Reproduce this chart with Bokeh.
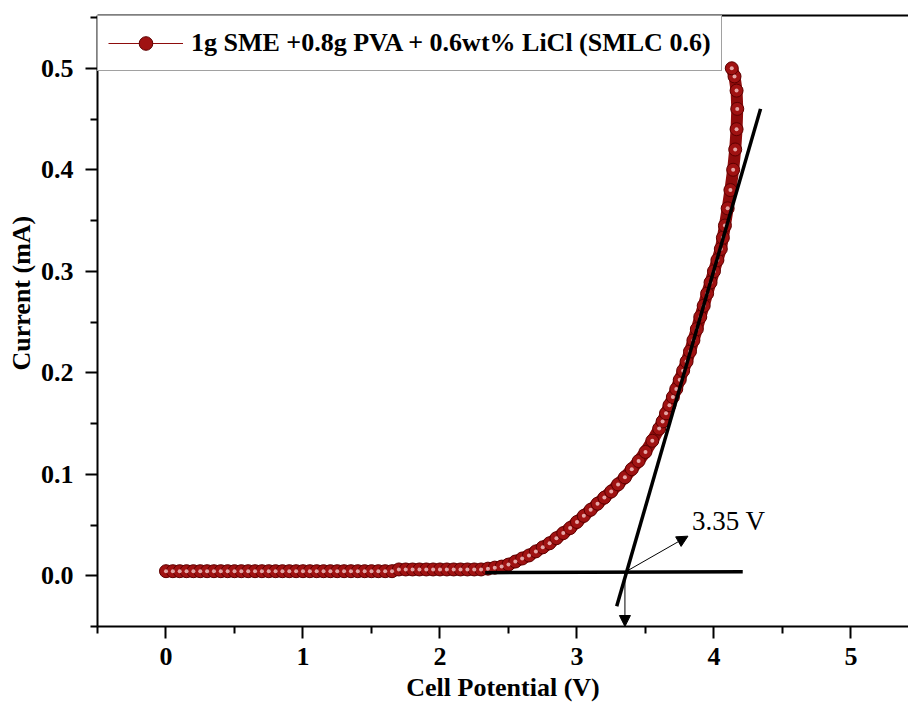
from bokeh.plotting import figure
from bokeh.models import (Range1d, FixedTicker, PrintfTickFormatter, LinearAxis,
                          Legend, LegendItem, Arrow, NormalHead, Label, Title)
from bokeh.embed import file_html
from bokeh.resources import INLINE

# ---- data (Cell potential in V, current in mA) ----
voltage = [0.00, 0.05, 0.10, 0.15, 0.20, 0.25, 0.30, 0.35, 0.40, 0.45,
           0.50, 0.55, 0.60, 0.65, 0.70, 0.75, 0.80, 0.85, 0.90, 0.95,
           1.00, 1.05, 1.10, 1.15, 1.20, 1.25, 1.30, 1.35, 1.40, 1.45,
           1.50, 1.55, 1.60, 1.65, 1.70, 1.75, 1.80, 1.85, 1.90, 1.95,
           2.00, 2.05, 2.10, 2.15, 2.20, 2.25, 2.30, 2.35, 2.40, 2.45,
           2.50, 2.55, 2.60, 2.65, 2.70, 2.75, 2.80, 2.85, 2.90, 2.95,
           3.00, 3.05, 3.10, 3.15, 3.20, 3.25, 3.30, 3.35, 3.40, 3.45,
           3.50, 3.55, 3.60, 3.625, 3.65, 3.675, 3.70, 3.725, 3.75, 3.775,
           3.80, 3.825, 3.85, 3.875, 3.90, 3.925, 3.95, 3.975, 4.00, 4.025,
           4.05, 4.065, 4.08, 4.10, 4.12, 4.14, 4.155, 4.165, 4.17, 4.165,
           4.15, 4.13]
current = [0.0045, 0.0045, 0.0045, 0.0045, 0.0045, 0.0045, 0.0045, 0.0045, 0.0045, 0.0045,
           0.0045, 0.0045, 0.0045, 0.0045, 0.0045, 0.0045, 0.0045, 0.0045, 0.0045, 0.0045,
           0.0045, 0.0045, 0.0045, 0.0045, 0.0045, 0.0045, 0.0045, 0.0045, 0.0045, 0.0045,
           0.0045, 0.0045, 0.0045, 0.0045, 0.0062, 0.0062, 0.0062, 0.0062, 0.0062, 0.0062,
           0.0062, 0.0062, 0.0062, 0.0062, 0.0062, 0.0062, 0.0062, 0.0070, 0.0080, 0.0090,
           0.011, 0.014, 0.017, 0.020, 0.024, 0.028, 0.032, 0.037, 0.042, 0.047,
           0.053, 0.059, 0.065, 0.071, 0.077, 0.083, 0.090, 0.097, 0.105, 0.113,
           0.122, 0.133, 0.145, 0.152, 0.160, 0.168, 0.176, 0.184, 0.193, 0.202,
           0.211, 0.221, 0.232, 0.243, 0.255, 0.266, 0.278, 0.289, 0.300, 0.311,
           0.322, 0.333, 0.345, 0.362, 0.380, 0.400, 0.420, 0.440, 0.460, 0.478,
           0.492, 0.500]

series_label = "1g SME +0.8g PVA + 0.6wt% LiCl (SMLC 0.6)"
x_title = "Cell Potential (V)"
y_title = "Current (mA)"

x_ticks = [0, 1, 2, 3, 4, 5]
x_minor = [-0.5, 0.5, 1.5, 2.5, 3.5, 4.5, 5.5]
y_ticks = [0.0, 0.1, 0.2, 0.3, 0.4, 0.5]
y_minor = [-0.05, 0.05, 0.15, 0.25, 0.35, 0.45, 0.55]

# onset construction (tangent + baseline)
onset_voltage = 3.35
onset_current = 0.0035
tangent_v = [3.29, 4.34]
tangent_i = [-0.03, 0.46]
baseline_v = [2.33, 4.21]
baseline_i = [0.003, 0.004]
pointer_end_v, pointer_end_i = 3.81, 0.039
onset_text_v, onset_text_i = 3.84, 0.054
onset_text = "3.35 V"

X_START, X_END = -0.5, 5.42
Y_START, Y_END = -0.05, 0.552

SERIF = "Liberation Serif"
RED = "#8e0c0c"

p = figure(width=908, height=710, x_range=Range1d(X_START, X_END),
           y_range=Range1d(Y_START, Y_END), output_backend="svg",
           toolbar_location=None, min_border_left=97, min_border_right=0,
           min_border_top=15, min_border_bottom=84)
p.grid.visible = False
p.outline_line_color = None
p.background_fill_color = "white"
p.border_fill_color = "white"

# curve: a band of shaded spheres
p.line(voltage, current, line_color=RED, line_width=12, line_cap="round", line_join="round")
thin = p.line(voltage, current, line_color=RED, line_width=1.2)
pts = p.scatter(voltage, current, marker="circle", size=13, fill_color="#a01212",
                line_color="#5e0000", line_width=1)
p.scatter(voltage, current, marker="circle", size=4, fill_color="#f6caca",
          line_color=None, fill_alpha=0.8)

# tangent and baseline
p.line(tangent_v, tangent_i, line_color="black", line_width=3.5)
p.line(baseline_v, baseline_i, line_color="black", line_width=3.5)

p.add_layout(Arrow(end=NormalHead(size=11, fill_color="black", line_color="black"),
                   x_start=onset_voltage, y_start=onset_current,
                   x_end=pointer_end_v, y_end=pointer_end_i,
                   line_color="black", line_width=1))
p.add_layout(Arrow(end=NormalHead(size=11, fill_color="black", line_color="black"),
                   x_start=onset_voltage, y_start=onset_current,
                   x_end=onset_voltage, y_end=Y_START,
                   line_color="black", line_width=1))
p.add_layout(Label(x=onset_text_v, y=onset_text_i, text=onset_text, text_font=SERIF,
                   text_font_size="27px", text_baseline="middle", text_align="left",
                   text_color="black"))

# axes
for ax in (p.xaxis[0], p.yaxis[0]):
    ax.axis_line_width = 2
    ax.axis_line_color = "black"
    ax.major_tick_line_width = 2
    ax.minor_tick_line_width = 2
    ax.major_tick_line_color = "black"
    ax.minor_tick_line_color = "black"
    ax.major_tick_out = 12
    ax.major_tick_in = 0
    ax.minor_tick_out = 7
    ax.minor_tick_in = 0
    ax.major_label_text_font = SERIF
    ax.major_label_text_font_style = "bold"
    ax.major_label_text_font_size = "26px"
    ax.major_label_text_color = "black"
    ax.axis_label_text_font = SERIF
    ax.axis_label_text_font_style = "bold"
    ax.axis_label_text_font_size = "26px"
    ax.axis_label_text_color = "black"

p.xaxis.ticker = FixedTicker(ticks=x_ticks, minor_ticks=x_minor)
p.yaxis.ticker = FixedTicker(ticks=y_ticks, minor_ticks=y_minor)
p.xaxis.formatter = PrintfTickFormatter(format="%d")
p.yaxis.formatter = PrintfTickFormatter(format="%.1f")
p.xaxis.major_label_standoff = 9
p.yaxis.major_label_standoff = 12
p.xaxis.axis_label = x_title
p.xaxis.axis_label_standoff = 5

# y title as a side title (sits a little above the frame centre, as in the reference)
p.add_layout(Title(text=y_title, align="left", offset=256, standoff=4,
                   text_font=SERIF, text_font_style="bold", text_font_size="26px",
                   text_color="black"), "left")

top = LinearAxis(ticker=FixedTicker(ticks=[]), major_tick_out=0, minor_tick_out=0,
                 major_tick_in=0, minor_tick_in=0, major_label_text_font_size="0px",
                 axis_line_width=2, axis_line_color="black")
p.add_layout(top, "above")

legend = Legend(items=[LegendItem(label=series_label, renderers=[thin, pts])],
                location="top_left", margin=0, padding=10, spacing=0,
                glyph_width=75, glyph_height=34, label_height=34, label_standoff=8,
                label_text_font=SERIF, label_text_font_style="bold",
                label_text_font_size="26px", label_text_color="black",
                border_line_color="#444444", border_line_width=1,
                background_fill_color="white", background_fill_alpha=1.0)
p.add_layout(legend)

open("out.html", "w").write(file_html(p, INLINE))
